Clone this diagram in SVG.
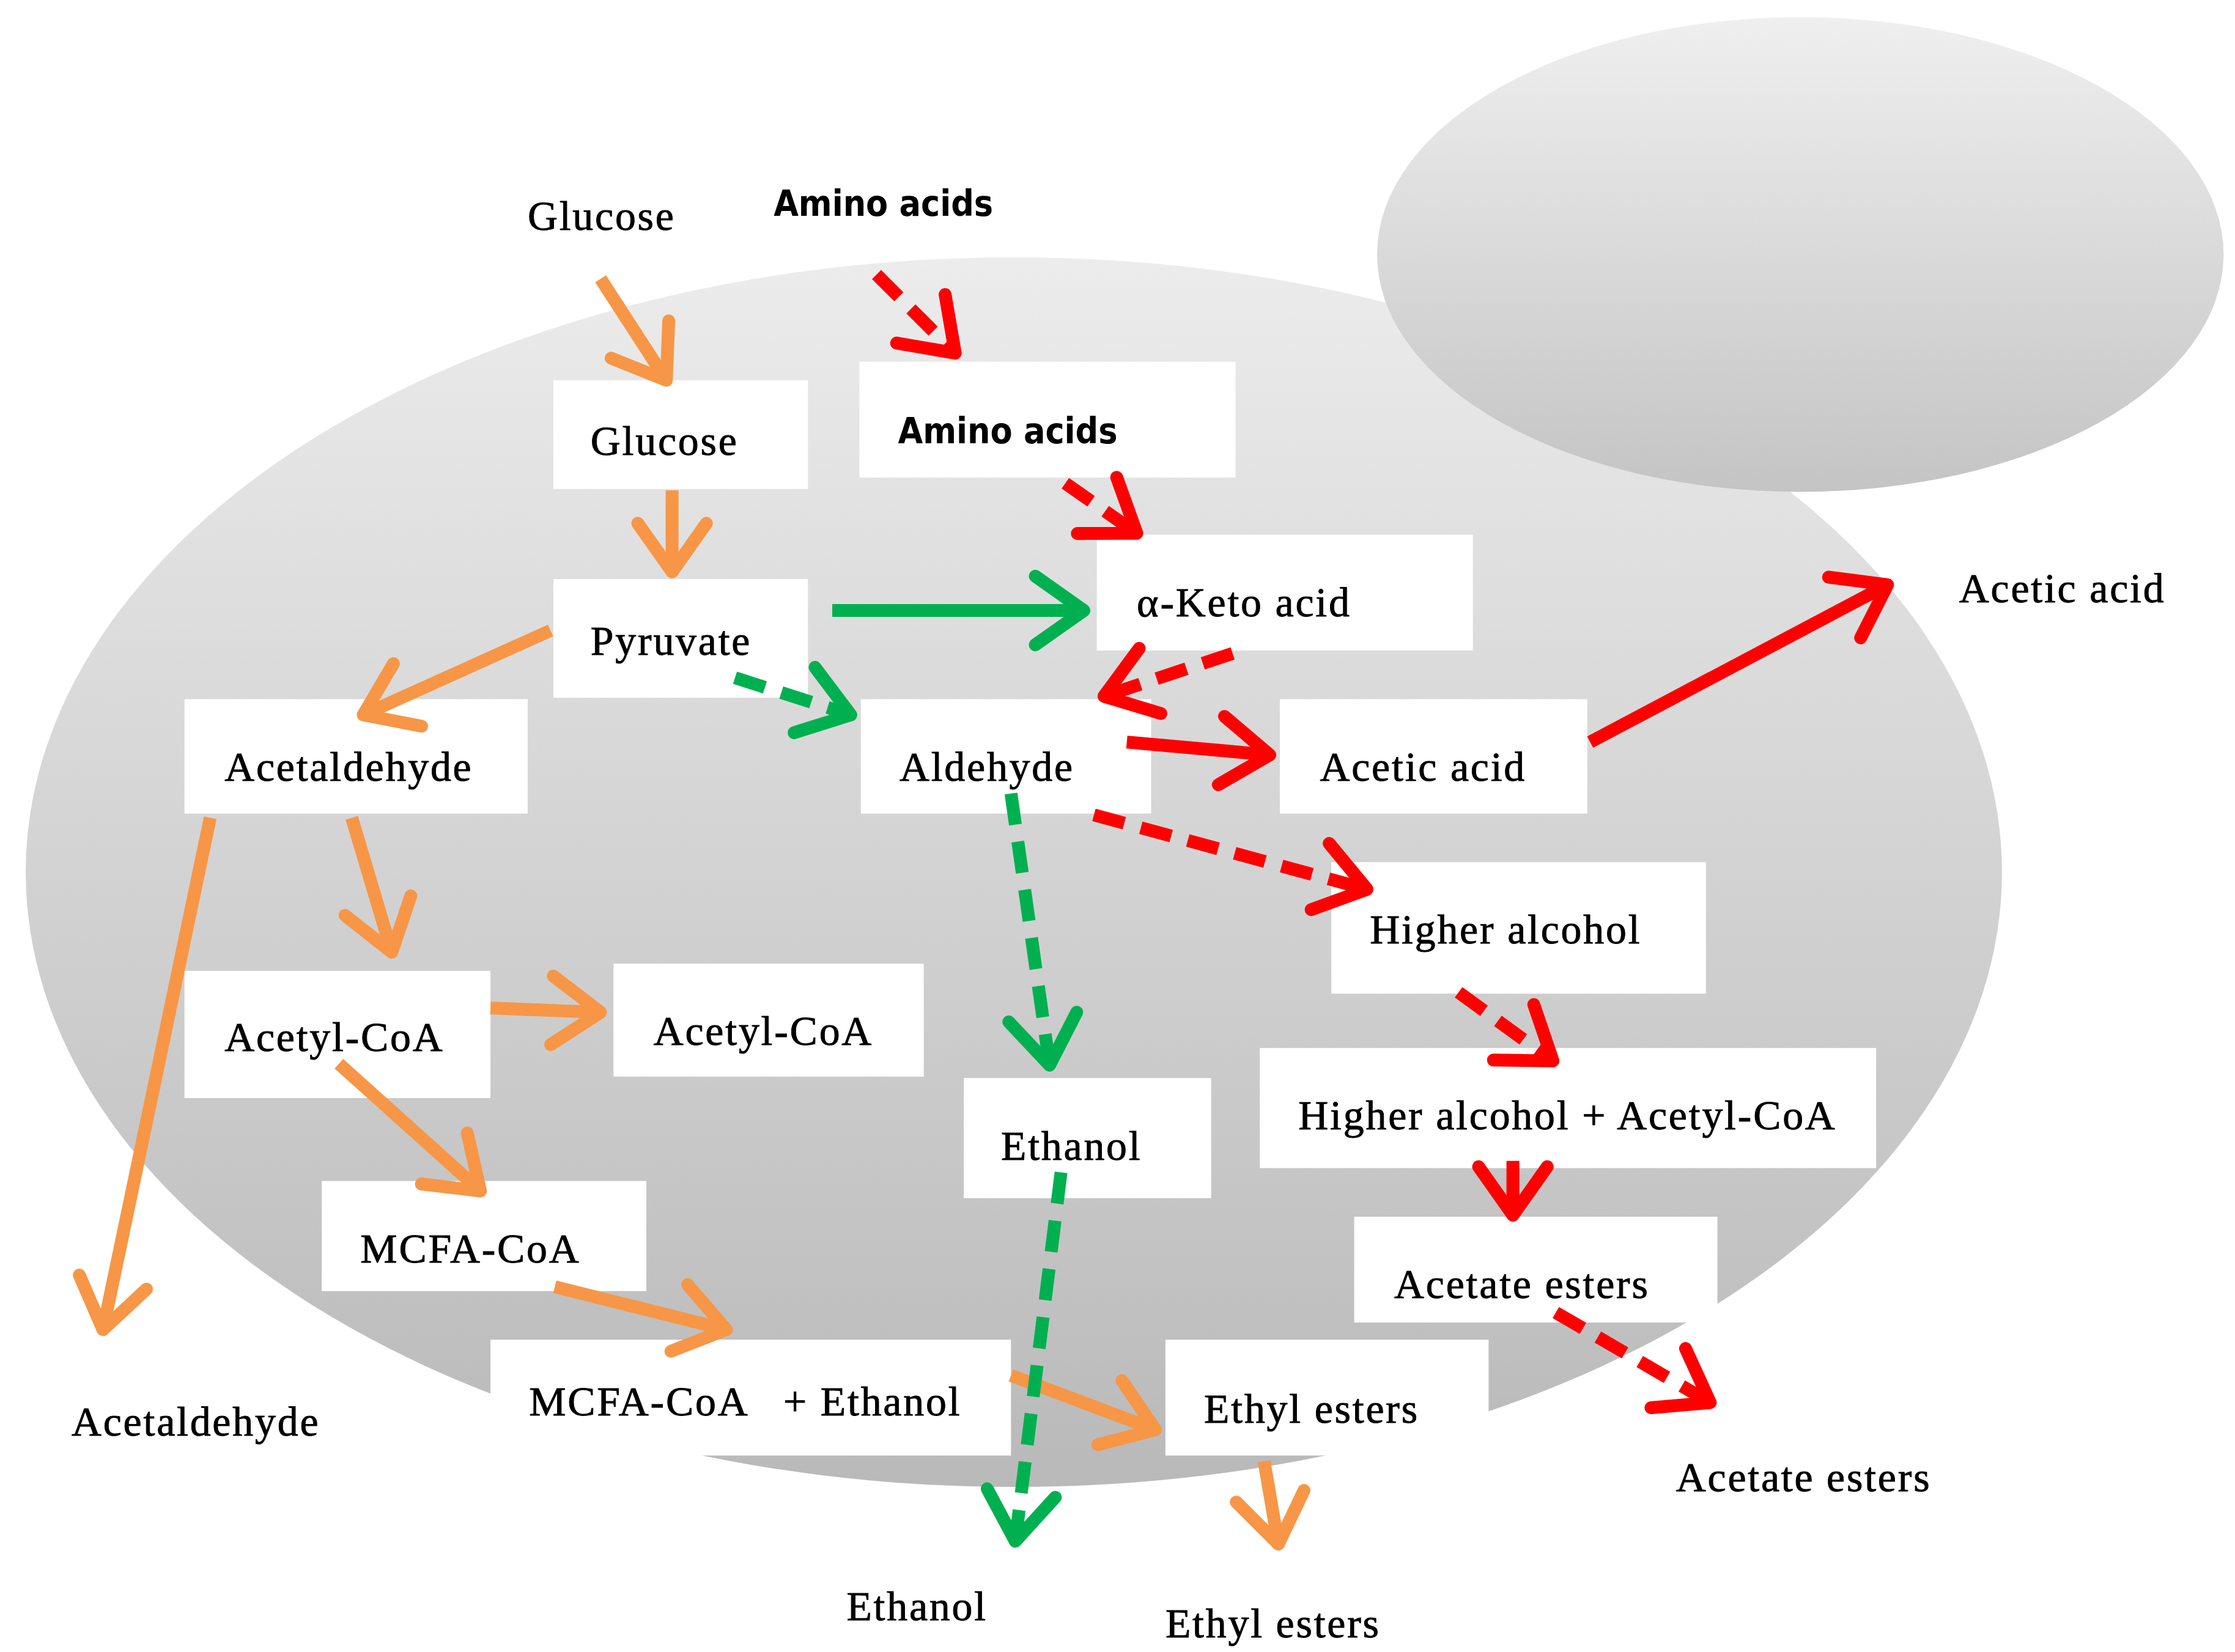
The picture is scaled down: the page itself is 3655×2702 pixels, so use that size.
<svg xmlns="http://www.w3.org/2000/svg" width="3655" height="2702" viewBox="0 0 3655 2702">
<defs>
<linearGradient id="gm" x1="0" y1="0" x2="0" y2="1"><stop offset="0" stop-color="#ececec"/><stop offset="1" stop-color="#b9b9b9"/></linearGradient>
<linearGradient id="gs" x1="0" y1="0" x2="0" y2="1"><stop offset="0" stop-color="#efefef"/><stop offset="1" stop-color="#c4c4c4"/></linearGradient>
<marker id="mo" markerUnits="userSpaceOnUse" orient="auto" overflow="visible" markerWidth="1" markerHeight="1"><path d="M-34,-24 L0,0 L-34,24" fill="none" stroke="#f79646" stroke-width="9" stroke-linecap="round" stroke-linejoin="round"/></marker>
<marker id="mg" markerUnits="userSpaceOnUse" orient="auto" overflow="visible" markerWidth="1" markerHeight="1"><path d="M-34,-24 L0,0 L-34,24" fill="none" stroke="#00b050" stroke-width="9" stroke-linecap="round" stroke-linejoin="round"/></marker>
<marker id="mr" markerUnits="userSpaceOnUse" orient="auto" overflow="visible" markerWidth="1" markerHeight="1"><path d="M-34,-24 L0,0 L-34,24" fill="none" stroke="#ff0000" stroke-width="9" stroke-linecap="round" stroke-linejoin="round"/></marker>
</defs>
<style>
.box{fill:#fff}
.t{font-family:"Liberation Serif",serif;font-size:29px;letter-spacing:1.2px;fill:#000;stroke:#000;stroke-width:0.4px}
.s{font-family:"DejaVu Sans Condensed","Liberation Sans",sans-serif;font-size:25px;font-weight:bold;fill:#000}
.o{stroke:#f79646;stroke-width:9;fill:none;marker-end:url(#mo)}
.g{stroke:#00b050;stroke-width:9;fill:none;marker-end:url(#mg)}
.r{stroke:#ff0000;stroke-width:9;fill:none;marker-end:url(#mr)}
.d{stroke-dasharray:22 12}
</style>
<rect width="3655" height="2702" fill="#fff"/>
<g transform="scale(2.3385)">
<ellipse cx="709" cy="610" rx="691" ry="430" fill="url(#gm)"/>
<ellipse cx="1259" cy="178" rx="296" ry="166" fill="url(#gs)"/>
<rect x="230" y="945" width="45" height="30" fill="#fff"/>
<g id="n-glucose"><rect class="box" x="387" y="266" width="178" height="76"/><text class="t" x="413" y="318">Glucose</text></g>
<g id="n-amino"><rect class="box" x="601" y="253" width="263" height="81"/><text class="s" x="628" y="310">Amino acids</text></g>
<g id="n-keto"><rect class="box" x="767" y="374" width="263" height="81"/><text class="t" x="795" y="431">α-Keto acid</text></g>
<g id="n-pyruvate"><rect class="box" x="387" y="405" width="178" height="83"/><text class="t" x="413" y="458">Pyruvate</text></g>
<g id="n-acetaldehyde"><rect class="box" x="129" y="489" width="240" height="80"/><text class="t" x="157" y="546">Acetaldehyde</text></g>
<g id="n-aldehyde"><rect class="box" x="602" y="489" width="203" height="80"/><text class="t" x="629" y="546">Aldehyde</text></g>
<g id="n-acetic"><rect class="box" x="895" y="489" width="215" height="80"/><text class="t" x="923" y="546">Acetic acid</text></g>
<g id="n-higher"><rect class="box" x="931" y="603" width="262" height="92"/><text class="t" x="958" y="660">Higher alcohol</text></g>
<g id="n-acetylcoa1"><rect class="box" x="129" y="679" width="214" height="89"/><text class="t" x="157" y="735">Acetyl-CoA</text></g>
<g id="n-acetylcoa2"><rect class="box" x="429" y="674" width="217" height="79"/><text class="t" x="457" y="731">Acetyl-CoA</text></g>
<g id="n-ethanol"><rect class="box" x="674" y="754" width="173" height="84"/><text class="t" x="700" y="811">Ethanol</text></g>
<g id="n-hacoa"><rect class="box" x="881" y="733" width="431" height="84"/><text class="t" x="908" y="790">Higher alcohol + Acetyl-CoA</text></g>
<g id="n-mcfa"><rect class="box" x="225" y="826" width="227" height="77"/><text class="t" x="252" y="883">MCFA-CoA</text></g>
<g id="n-acetate"><rect class="box" x="947" y="851" width="254" height="74"/><text class="t" x="975" y="908">Acetate esters</text></g>
<g id="n-mcfaeth"><rect class="box" x="343" y="937" width="364" height="81"/><text class="t" x="370" y="990" xml:space="preserve">MCFA-CoA   + Ethanol</text></g>
<g id="n-ethyl"><rect class="box" x="815" y="937" width="226" height="81"/><text class="t" x="842" y="995">Ethyl esters</text></g>
<g id="labels">
<text class="t" x="369" y="161">Glucose</text>
<text class="s" x="541" y="151">Amino acids</text>
<text class="t" x="1370" y="421">Acetic acid</text>
<text class="t" x="50" y="1004">Acetaldehyde</text>
<text class="t" x="592" y="1133">Ethanol</text>
<text class="t" x="815" y="1145">Ethyl esters</text>
<text class="t" x="1172" y="1043">Acetate esters</text>
</g>
<g id="connectors">
<line class="o" x1="420" y1="195" x2="466" y2="266"/>
<line class="o" x1="470" y1="343" x2="470" y2="400"/>
<line class="o" x1="385" y1="441" x2="254" y2="500"/>
<line class="o" x1="246" y1="572" x2="274" y2="666"/>
<line class="o" x1="147" y1="572" x2="72" y2="930"/>
<line class="o" x1="343" y1="705" x2="420" y2="708"/>
<line class="o" x1="237" y1="744" x2="336" y2="833"/>
<line class="o" x1="388" y1="900" x2="508" y2="930"/>
<line class="o" x1="707" y1="962" x2="808" y2="1000"/>
<line class="o" x1="884" y1="1022" x2="894" y2="1080"/>
<line class="g" x1="582" y1="427" x2="758" y2="427"/>
<line class="g d" x1="514" y1="474" x2="595" y2="500"/>
<line class="g d" x1="707" y1="555" x2="734" y2="745"/>
<line class="g d" x1="742" y1="820" x2="710" y2="1078"/>
<line class="r d" x1="613" y1="192" x2="668" y2="247"/>
<line class="r d" x1="745" y1="338" x2="795" y2="373"/>
<line class="r d" x1="862" y1="457" x2="772" y2="487"/>
<line class="r" x1="788" y1="519" x2="888" y2="528"/>
<line class="r d" x1="765" y1="570" x2="956" y2="622"/>
<line class="r" x1="1112" y1="519" x2="1320" y2="409"/>
<line class="r d" x1="1020" y1="694" x2="1086" y2="742"/>
<line class="r" x1="1058" y1="812" x2="1058" y2="850"/>
<line class="r d" x1="1088" y1="918" x2="1196" y2="981"/>
</g>
</g>
</svg>
